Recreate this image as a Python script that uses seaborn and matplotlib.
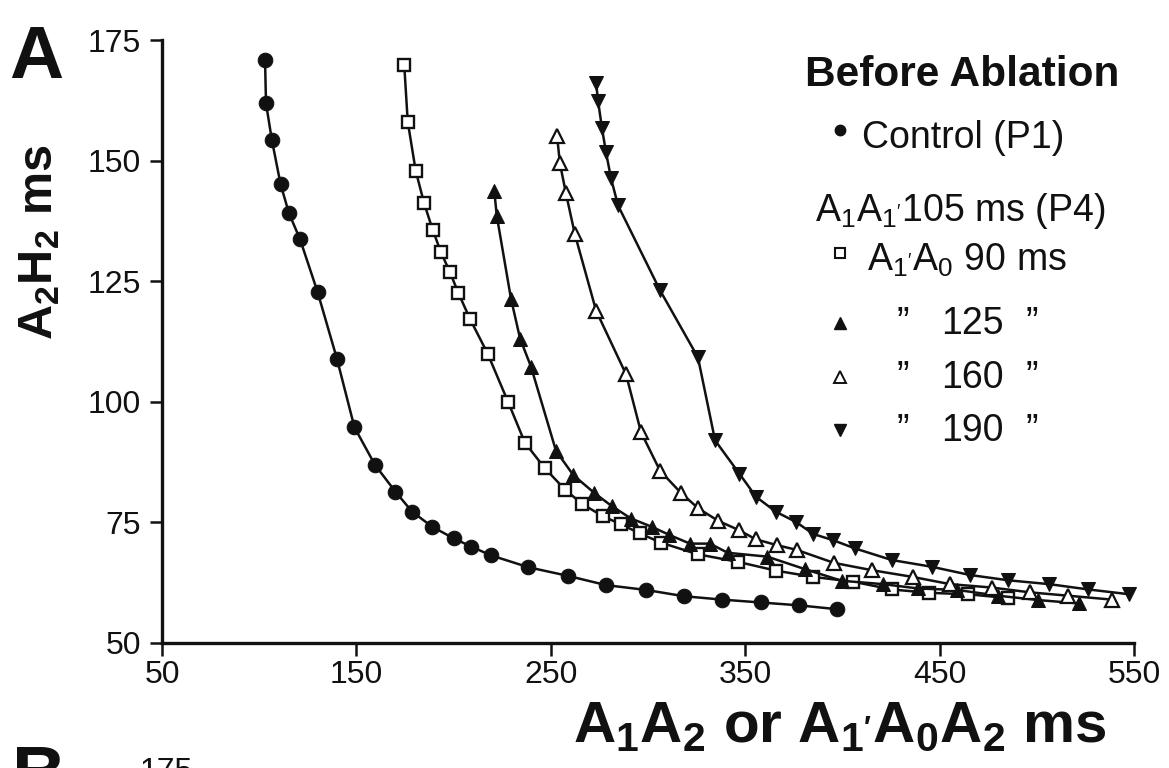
import matplotlib
matplotlib.use("Agg")
import matplotlib.pyplot as plt
import seaborn as sns
import pandas as pd

sns.set_theme(style="ticks")
plt.rcParams["font.family"] = ["Liberation Sans", "DejaVu Sans"]
plt.rcParams["mathtext.fontset"] = "custom"
plt.rcParams["mathtext.rm"] = "Liberation Sans"
plt.rcParams["mathtext.default"] = "regular"

# Control (P1)
ctrl_x = [103, 103.5, 106.5, 111, 115.3, 121, 130, 140, 149, 159.6, 170, 178.7, 189, 200,
          209, 219, 238.5, 259, 278.4, 299, 318.5, 337.9, 358, 377.9, 397.4]
ctrl_y = [170.9, 161.9, 154.3, 145.1, 139.1, 133.7, 122.8, 108.9, 94.7, 86.9, 81.4, 77.2,
          74.1, 71.7, 70.0, 68.2, 65.7, 63.9, 62.0, 61.0, 59.7, 59.0, 58.4, 57.8, 57.0]

# A1'A0 90 ms
sq_x = [174.6, 176.4, 180.5, 184.8, 189.2, 193.5, 198.1, 202.4, 208.4, 217.5, 228, 236.7,
        247, 257.3, 266.2, 276.7, 286.1, 295.9, 306.7, 325.5, 346.5, 365.8, 385, 405.6,
        425.4, 444.7, 464.8, 485.3]
sq_y = [169.9, 158.1, 147.9, 141.2, 135.7, 131.0, 126.9, 122.6, 117.2, 110.0, 100.0, 91.5,
        86.2, 81.8, 78.8, 76.3, 74.6, 72.7, 70.8, 68.4, 66.8, 65.0, 63.7, 62.7, 61.1, 60.4,
        60.1, 59.3]

# A1'A0 125 ms
tu_x = [220.9, 222.2, 229.5, 234.2, 239.8, 252.7, 261.6, 272.4, 281.3, 291.3, 301.9, 311,
        321.6, 331.9, 341, 361.4, 380.8, 399.6, 421, 439, 459, 480.2, 500.8, 521.9]
tu_y = [143.8, 138.6, 121.4, 113.1, 107.3, 89.8, 84.8, 81.1, 78.4, 75.8, 74.1, 72.4, 70.6,
        70.6, 68.7, 67.9, 65.3, 62.9, 62.2, 61.3, 61.0, 59.8, 58.9, 58.2]

# A1'A0 160 ms
to_x = [253.2, 254.7, 257.8, 262.4, 273.3, 288.7, 296.4, 306.2, 317, 325.9, 336.2, 346.8,
        355.4, 366.2, 376.5, 395.7, 415.1, 436.1, 455.4, 476.8, 496.5, 516.2, 538.5]
to_y = [155.2, 149.4, 143.2, 134.7, 118.9, 105.7, 93.7, 85.7, 81.1, 77.9, 75.3, 73.4, 71.5,
        70.3, 69.3, 66.6, 65.1, 63.7, 62.2, 61.5, 60.5, 59.8, 59.0]

# A1'A0 190 ms
td_x = [273.3, 274.3, 276.3, 278.4, 281.0, 284.6, 306.2, 325.7, 334.5, 347, 355.6, 365.8,
        376.1, 385, 395.3, 406.5, 425.4, 446, 465.6, 485.3, 506.4, 526.5, 547.6]
td_y = [166.1, 162.4, 156.8, 151.7, 146.3, 140.7, 123.1, 109.2, 92.0, 85.1, 80.3, 77.2,
        75.1, 72.6, 71.3, 69.6, 67.2, 65.8, 64.1, 63.0, 62.2, 61.1, 60.1]

INK = "#111111"
W, H = 1169, 768
fig = plt.figure(figsize=(W / 100, H / 100), dpi=100)
ax = fig.add_axes([162 / W, 1 - 643 / H, (1134 - 162) / W, (643 - 40) / H])

series = [
    (ctrl_x, ctrl_y, dict(marker="o", markersize=10.5, markerfacecolor=INK,
                          markeredgecolor=INK)),
    (sq_x, sq_y, dict(marker="s", markersize=8.5, markerfacecolor="white",
                      markeredgecolor=INK, markeredgewidth=1.7)),
    (tu_x, tu_y, dict(marker="^", markersize=10, markerfacecolor=INK,
                      markeredgecolor=INK)),
    (to_x, to_y, dict(marker="^", markersize=9.5, markerfacecolor="white",
                      markeredgecolor=INK, markeredgewidth=1.6)),
    (td_x, td_y, dict(marker="v", markersize=10, markerfacecolor=INK,
                      markeredgecolor=INK)),
]
for xs, ys, style in series:
    df = pd.DataFrame({"x": xs, "y": ys})
    sns.lineplot(data=df, x="x", y="y", ax=ax, sort=False, estimator=None,
                 color=INK, linewidth=1.8, clip_on=False, **style)

ax.set_xlim(50, 550)
ax.set_ylim(50, 175)
ax.set_xticks([50, 150, 250, 350, 450, 550])
ax.set_yticks([50, 75, 100, 125, 150, 175])
ax.set_xlabel("")
ax.set_ylabel("")
for side in ("top", "right"):
    ax.spines[side].set_visible(False)
for side in ("left", "bottom"):
    ax.spines[side].set_linewidth(2.4)
    ax.spines[side].set_color(INK)
ax.tick_params(axis="both", direction="out", length=9, width=1.8, colors=INK,
               labelsize=23)
ax.tick_params(axis="y", pad=6)
ax.tick_params(axis="x", pad=3)

# axis titles
fig.text(573 / W, 1 - 742 / H, r"A$_1$A$_2$ or A$_{1'}$A$_0$A$_2$ ms", fontsize=42,
         fontweight="bold", ha="left", va="baseline", color=INK)
fig.text(62 / W, 1 - 242 / H, r"A$_2$H$_2$ ms", fontsize=35, fontweight="bold",
         rotation=90, ha="right", va="center", color=INK)

# panel letters
fig.text(9 / W, 1 - 78 / H, "A", fontsize=54, fontweight="bold", ha="left",
         va="baseline", color=INK)
fig.text(12 / W, 1 - 744 / H, "B", fontsize=54, fontweight="bold", ha="left",
         va="top", color=INK)
fig.text(166 / W, 1 - 757 / H, "175", fontsize=23, ha="center", va="top", color=INK)

# key
fig.text(805 / W, 1 - 86 / H, "Before Ablation", fontsize=30.5, fontweight="bold",
         ha="left", va="baseline", color=INK)
rows = [
    (148, "Control (P1)", 862, dict(marker="o", markersize=7.5, mfc=INK)),
    (221, r"A$_1$A$_{1'}$105 ms (P4)", 815, None),
    (271, r"A$_{1'}$A$_0$ 90 ms", 867, dict(marker="s", markersize=7, mfc="white", mew=1.5)),
]
for base, label, x0, mk in rows:
    fig.text(x0 / W, 1 - base / H, label, fontsize=27, ha="left", va="baseline", color=INK)
    if mk is not None:
        ax.plot([840 / W], [1 - (base - 18) / H], transform=fig.transFigure, clip_on=False,
                color=INK, linestyle="none", mec=INK, **mk)
ditto = [
    (334, "125", dict(marker="^", markersize=8, mfc=INK)),
    (388, "160", dict(marker="^", markersize=8, mfc="white", mew=1.4)),
    (441, "190", dict(marker="v", markersize=8, mfc=INK)),
]
for base, num, mk in ditto:
    fig.text(903 / W, 1 - base / H, "\u201d", fontsize=27, ha="center", va="baseline",
             color=INK)
    fig.text(972 / W, 1 - base / H, num, fontsize=27, ha="center", va="baseline", color=INK)
    fig.text(1032 / W, 1 - base / H, "\u201d", fontsize=27, ha="center", va="baseline",
             color=INK)
    ax.plot([840 / W], [1 - (base - 11) / H], transform=fig.transFigure, clip_on=False,
            color=INK, linestyle="none", mec=INK, **mk)

fig.savefig("out.png", dpi=100)
